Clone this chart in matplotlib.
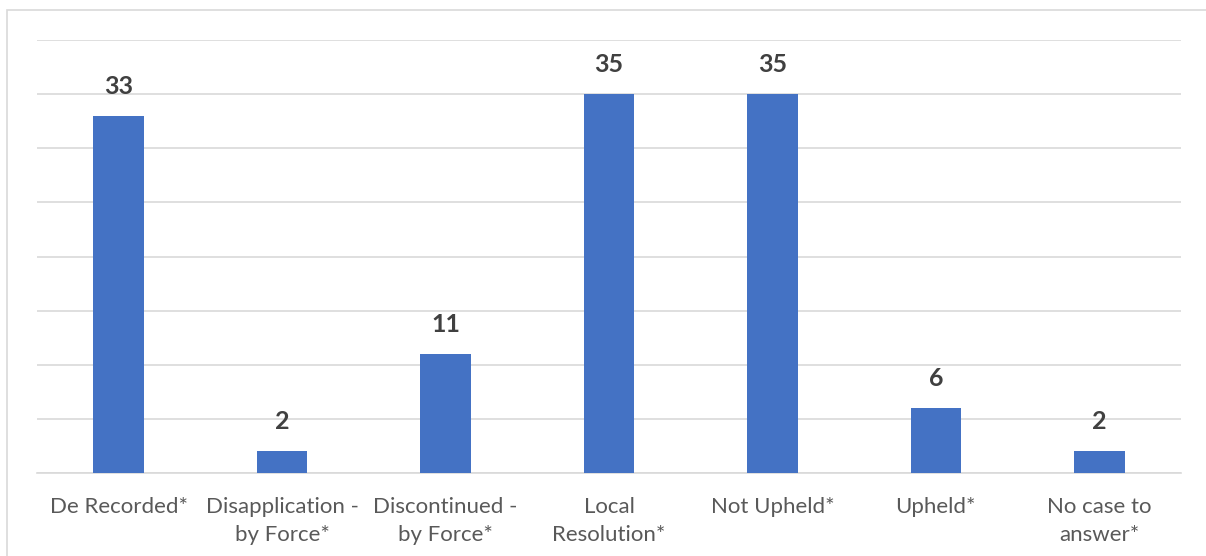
import matplotlib.pyplot as plt
from matplotlib.patches import Rectangle
import numpy as np

categories = ['De Recorded*', 'Disapplication -\nby Force*', 'Discontinued -\nby Force*',
              'Local\nResolution*', 'Not Upheld*', 'Upheld*', 'No case to\nanswer*']
values = [33, 2, 11, 35, 35, 6, 2]

plt.rcParams['font.family'] = ['Lato', 'DejaVu Sans']

fig = plt.figure(figsize=(12.06, 5.56), dpi=100)
# chart border (extends off the bottom/right like the reference)
fig.patches.append(Rectangle((7 / 1206, -0.1), 1.2, 1 - 10 / 556 + 0.1, transform=fig.transFigure,
                             fill=False, edgecolor='#d9d9d9', linewidth=1.2))

ax = fig.add_axes([37 / 1206, 1 - 473 / 556, (1181 - 37) / 1206, (473 - 40) / 556])
x = np.arange(len(categories))
bars = ax.bar(x, values, width=0.31, color='#4472C4', zorder=3)

ax.set_xlim(-0.5, len(categories) - 0.5)
ax.set_ylim(0, 40)
ax.set_yticks(np.arange(0, 41, 5))
ax.set_yticklabels([])
ax.tick_params(axis='y', length=0)
ax.tick_params(axis='x', length=0, pad=17, labelsize=16, labelcolor='#595959')
ax.set_xticks(x)
ax.set_xticklabels(categories, linespacing=1.5)
ax.grid(axis='y', color='#d9d9d9', linewidth=1.2, zorder=0)
for s in ['top', 'right', 'left']:
    ax.spines[s].set_visible(False)
ax.spines['bottom'].set_color('#d9d9d9')
ax.spines['bottom'].set_linewidth(1.2)

for xi, v in zip(x, values):
    ax.annotate(str(v), (xi, v), xytext=(0, 13), textcoords='offset points',
                ha='center', va='bottom', fontsize=18, fontweight='bold', color='#404040')

fig.savefig('out.png', dpi=100)
